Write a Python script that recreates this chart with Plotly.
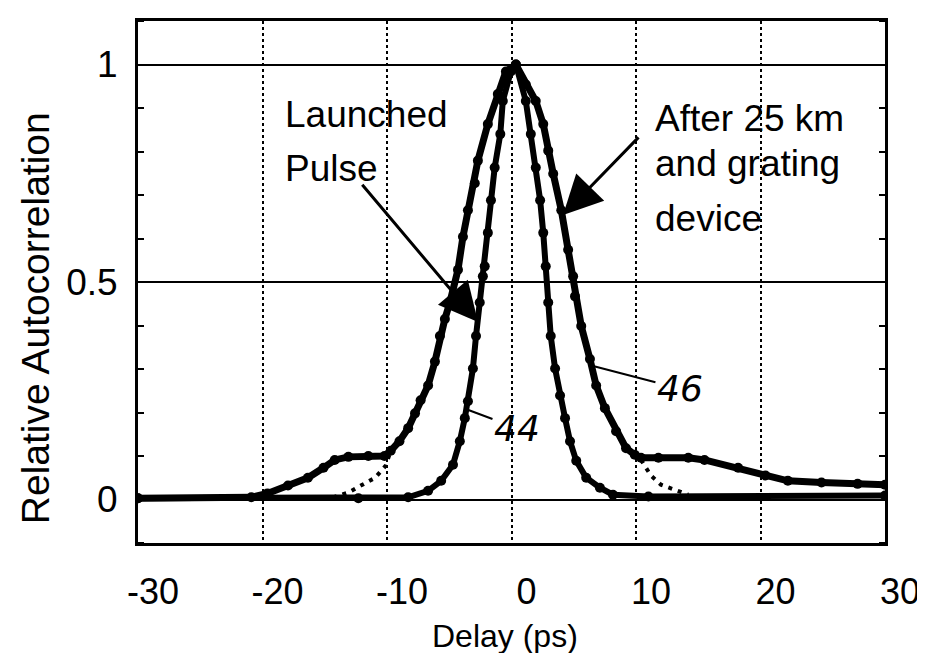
import plotly.graph_objects as go

# ---------------- data ----------------
# Outer curve: after 25 km and grating device (reference 46)
after_x = [-30, -20.9, -19.6, -17.95, -16.35, -15.1, -14.2, -13.1, -11.5, -10.2, -9.7, -9.0,
           -8.3, -7.75, -7.3, -6.7, -6.15, -5.75, -5.35, -4.95, -4.3, -3.9, -3.5, -2.95, -2.7,
           -1.9, -1.1, -0.45, 0.35, 1.15, 1.95, 2.55, 2.95, 3.35, 4.0, 4.55, 4.95, 5.1, 5.6,
           6.3, 6.8, 7.5, 8.4, 9.2, 9.9, 10.4, 11.8, 14.2, 15.5, 18.2, 20.4, 22.2, 24.9, 27.8, 30]
after_y = [0.003, 0.005, 0.014, 0.032, 0.05, 0.073, 0.091, 0.098, 0.1, 0.1, 0.112, 0.134,
           0.164, 0.198, 0.228, 0.262, 0.317, 0.376, 0.415, 0.453, 0.528, 0.604, 0.665, 0.727, 0.779,
           0.863, 0.932, 0.984, 1.0, 0.954, 0.916, 0.863, 0.802, 0.749, 0.665, 0.574, 0.513, 0.467, 0.399,
           0.323, 0.262, 0.21, 0.157, 0.118, 0.103, 0.096, 0.096, 0.096, 0.091, 0.073, 0.055, 0.043, 0.039, 0.036, 0.034]

# Inner curve: launched pulse (reference 44)
launch_x = [-30, -12.3, -8.3, -6.7, -5.65, -4.7, -4.15, -3.75, -3.5, -3.1, -2.85, -2.55, -2.3,
            -2.15, -1.9, -1.65, -1.35, -0.9, -0.7, -0.05, 0.35, 1.15, 1.55, 1.95, 2.3, 2.55, 2.75,
            2.95, 3.15, 3.5, 3.9, 4.3, 4.7, 5.2, 6.0, 7.1, 8.15, 11.0, 30]
launch_y = [0.003, 0.003, 0.005, 0.02, 0.043, 0.08, 0.134, 0.187, 0.226, 0.301, 0.376, 0.453, 0.513,
            0.536, 0.613, 0.688, 0.763, 0.84, 0.916, 0.984, 1.0, 0.916, 0.84, 0.763, 0.688, 0.613, 0.536,
            0.453, 0.376, 0.301, 0.239, 0.187, 0.134, 0.089, 0.05, 0.027, 0.011, 0.007, 0.009]

# Dotted fit of the main lobe below the pedestal shoulders
fit_x = [-14.35, -13.1, -12.1, -10.95, -10.1, -9.7, None, 10.4, 11.2, 12.0, 13.0, 14.2]
fit_y = [0.005, 0.016, 0.032, 0.05, 0.078, 0.112, None, 0.091, 0.055, 0.034, 0.023, 0.011]

x_ticks = [-30, -20, -10, 0, 10, 20, 30]
x_ticktext = ["-30", "-20", "-10", "0", "10", "20", "30"]
y_ticks = [0, 0.5, 1]
y_ticktext = ["0", "0.5", "1"]

FONT = "Liberation Sans, Arial, Helvetica, sans-serif"

fig = go.Figure()
fig.add_trace(go.Scatter(x=fit_x, y=fit_y, mode="lines",
                         line=dict(color="black", width=4, dash="4px,6px"),
                         showlegend=False, hoverinfo="skip"))
fig.add_trace(go.Scatter(x=after_x, y=after_y, mode="lines+markers", name="After 25 km",
                         line=dict(color="black", width=7),
                         marker=dict(color="black", size=10),
                         showlegend=False))
fig.add_trace(go.Scatter(x=launch_x, y=launch_y, mode="lines+markers", name="Launched Pulse",
                         line=dict(color="black", width=6),
                         marker=dict(color="black", size=10),
                         showlegend=False))

ann = []
txt = dict(family=FONT, size=37, color="black")
ann.append(dict(x=-18.35, y=0.884, xref="x", yref="y", text="Launched", showarrow=False,
                xanchor="left", yanchor="middle", font=txt))
ann.append(dict(x=-18.35, y=0.761, xref="x", yref="y", text="Pulse", showarrow=False,
                xanchor="left", yanchor="middle", font=txt))
ann.append(dict(x=11.37, y=0.875, xref="x", yref="y", text="After 25 km", showarrow=False,
                xanchor="left", yanchor="middle", font=txt))
ann.append(dict(x=11.37, y=0.772, xref="x", yref="y", text="and grating", showarrow=False,
                xanchor="left", yanchor="middle", font=txt))
ann.append(dict(x=11.37, y=0.645, xref="x", yref="y", text="device", showarrow=False,
                xanchor="left", yanchor="middle", font=txt))
# arrows
ann.append(dict(x=-2.69, y=0.408, ax=-12.09, ay=0.727, xref="x", yref="y", axref="x", ayref="y",
                text="", showarrow=True, arrowhead=2, arrowsize=2.6, arrowwidth=3, arrowcolor="black"))
ann.append(dict(x=4.14, y=0.654, ax=10.32, ay=0.836, xref="x", yref="y", axref="x", ayref="y",
                text="", showarrow=True, arrowhead=2, arrowsize=2.6, arrowwidth=3, arrowcolor="black"))
# reference numerals
hand = dict(family="DejaVu Sans, sans-serif", size=36, color="black", style="italic")
ann.append(dict(x=6.55, y=0.307, ax=13.53, ay=0.255, xref="x", yref="y", axref="x", ayref="y",
                text="46", showarrow=True, arrowhead=0, arrowwidth=2, arrowcolor="black", font=hand))
ann.append(dict(x=-3.57, y=0.207, ax=0.44, ay=0.164, xref="x", yref="y", axref="x", ayref="y",
                text="44", showarrow=True, arrowhead=0, arrowwidth=2, arrowcolor="black", font=hand))
# axis titles
ann.append(dict(x=-0.137, y=0.43, xref="paper", yref="paper", text="Relative Autocorrelation",
                textangle=-90, showarrow=False, xanchor="center", yanchor="middle",
                font=dict(family=FONT, size=39, color="black")))
ann.append(dict(x=0.491, y=-0.178, xref="paper", yref="paper", text="Delay (ps)",
                showarrow=False, xanchor="center", yanchor="middle",
                font=dict(family=FONT, size=32, color="black")))

fig.update_layout(
    width=925, height=653,
    margin=dict(l=130, r=48, t=10, b=118),
    paper_bgcolor="white", plot_bgcolor="white",
    annotations=ann,
    showlegend=False,
)
fig.update_xaxes(range=[-30, 30], tickvals=x_ticks, ticktext=x_ticktext,
                 showgrid=True, gridcolor="black", griddash="dot", gridwidth=1.5,
                 showline=True, linecolor="black", linewidth=3, mirror=True,
                 zeroline=False, ticks="", ticklabelshift=15, ticklabelstandoff=15,
                 tickfont=dict(family=FONT, size=36, color="black"))
fig.update_yaxes(range=[-0.1, 1.1], tickvals=y_ticks, ticktext=y_ticktext,
                 showgrid=True, gridcolor="black", gridwidth=2,
                 showline=True, linecolor="black", linewidth=3, mirror="allticks",
                 zeroline=False, ticks="", ticklabelstandoff=10,
                 minor=dict(dtick=0.1, ticks="inside", ticklen=6, tickwidth=2, tickcolor="black", showgrid=False),
                 tickfont=dict(family=FONT, size=37, color="black"))

fig.write_html("out.html")
